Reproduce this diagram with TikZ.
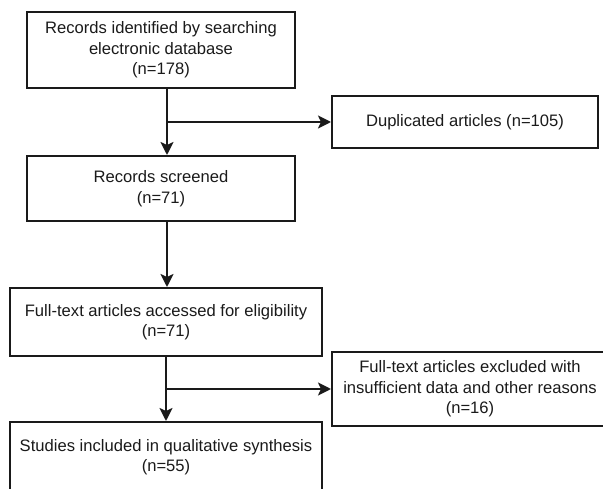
\documentclass[tikz,border=0pt]{standalone}
\usepackage{fontspec}
\setmainfont{Liberation Sans}
\usetikzlibrary{
  arrows.meta,
  calc
}
\definecolor{flowInk}{HTML}{1A1A1A}
\tikzset{
  flowBox/.style={
    draw=flowInk,
    line width=2pt,
    align=center,
    inner sep=0pt,
    text=flowInk,
    font=\fontsize{16.6}{20.5}\selectfont
  },
  flowArrow/.style={-{Stealth[length=13pt, width=13pt, inset=3pt]}, line width=2pt, flowInk}
}

\begin{document}
\begin{tikzpicture}[x=1pt,y=-1pt]
  \useasboundingbox (0,0) rectangle (603,489);

  \node[flowBox, minimum width=268pt, minimum height=76pt]
    (found) at (161,50)
    {Records identified by searching\\
    electronic database\\
    (n=178)};
  \node[flowBox, minimum width=266pt, minimum height=52pt]
    (dup) at (465,122)
    {Duplicated articles (n=105)};
  \node[flowBox, minimum width=268pt, minimum height=65pt]
    (screen) at (161,188.5)
    {Records screened\\
    (n=71)};
  \node[flowBox, minimum width=312pt, minimum height=68pt]
    (full) at (166,322)
    {Full-text articles accessed for eligibility\\
    (n=71)};
  \node[flowBox, minimum width=276pt, minimum height=74pt]
    (excl) at (470,389)
    {Full-text articles excluded with\\
    insufficient data and other reasons\\
    (n=16)};
  \node[flowBox, minimum width=312pt, minimum height=70pt]
    (incl) at (166,457)
    {Studies included in qualitative synthesis\\
    (n=55)};

  % main flow
  \draw[flowArrow] ([xshift=6pt]found.south) -- ([xshift=6pt]screen.north);
  \draw[flowArrow] ([xshift=6pt]screen.south) -- ([xshift=6pt]screen.south |- full.north);
  \draw[flowArrow] (full.south) -- (incl.north);

  % exclusions
  \draw[flowArrow] ([xshift=6pt]found.south |- dup.west) -- (dup.west);
  \draw[flowArrow] (full.south |- excl.west) -- (excl.west);
\end{tikzpicture}
\end{document}
